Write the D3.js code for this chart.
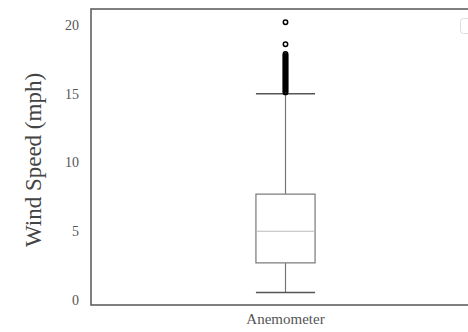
<!DOCTYPE html>
<html>
<head>
<meta charset="utf-8">
<script src="https://cdn.jsdelivr.net/npm/d3@7"></script>
<style>
  body { margin: 0; background: #fff; }
  svg { display: block; font-family: "Liberation Serif", "DejaVu Serif", serif; }
  .tick text { fill: #555; }
</style>
</head>
<body>
<svg width="468" height="332"></svg>
<script>
const categories = ["Anemometer"];
// box stats (mph)
const lowerWhisker = [0.55];
const q1 = [2.7];
const median = [5.0];
const q3 = [7.7];
const upperWhisker = [15.0];
const outliers = [15.1, 15.2, 15.3, 15.4, 15.5, 15.6, 15.7, 15.8, 15.9, 16.0,
  16.1, 16.2, 16.3, 16.4, 16.5, 16.6, 16.7, 16.8, 16.9, 17.0,
  17.1, 17.2, 17.3, 17.4, 17.5, 17.6, 17.7, 17.8, 17.9, 18.6, 20.2];
const yTicks = [0, 5, 10, 15, 20];

const svg = d3.select("svg");
const margin = {left: 91, top: 9, right: -12, bottom: 27};
const width = 468, height = 332;

var x = d3.scaleBand()
    .domain(categories)
    .range([margin.left, width - margin.right]);

var y = d3.scaleLinear()
    .domain([0, 20])
    .range([300, 25]);

const boxW = x.bandwidth() * 0.152;
const capW = x.bandwidth() * 0.076;

// frame
svg.append("rect")
    .attr("x", margin.left)
    .attr("y", margin.top)
    .attr("width", width - margin.right - margin.left)
    .attr("height", 305 - margin.top)
    .attr("fill", "none")
    .attr("stroke", "#555")
    .attr("stroke-width", 1.5);

// legend stub peeking in at the right
svg.append("rect")
    .attr("x", 460.5).attr("y", 18.5)
    .attr("width", 40).attr("height", 15)
    .attr("rx", 3)
    .attr("fill", "#fff")
    .attr("stroke", "#ddd");

var yAxis = d3.axisLeft(y)
    .tickValues(yTicks)
    .tickSize(0)
    .tickPadding(12);

svg.append("g")
    .attr("transform", `translate(${margin.left},0)`)
    .call(yAxis)
    .call(g => g.select(".domain").remove())
    .selectAll("text")
    .attr("font-size", 14)
    .attr("font-family", "Liberation Serif, serif");

var xAxis = d3.axisBottom(x).tickSize(0).tickPadding(8);

svg.append("g")
    .attr("transform", "translate(0,305)")
    .call(xAxis)
    .call(g => g.select(".domain").remove())
    .selectAll("text")
    .attr("font-size", 15)
    .attr("fill", "#222")
    .attr("font-family", "Liberation Serif, serif");

svg.append("text")
    .attr("transform", "translate(41,160) rotate(-90)")
    .attr("text-anchor", "middle")
    .attr("font-size", 23)
    .attr("fill", "#444")
    .text("Wind Speed (mph)");

const g = svg.append("g");
categories.forEach((c, i) => {
    const cx = x(c) + x.bandwidth() / 2;
    // whiskers
    g.append("line")
        .attr("x1", cx).attr("x2", cx)
        .attr("y1", y(q3[i])).attr("y2", y(upperWhisker[i]))
        .attr("stroke", "#777").attr("stroke-width", 1.2);
    g.append("line")
        .attr("x1", cx).attr("x2", cx)
        .attr("y1", y(q1[i])).attr("y2", y(lowerWhisker[i]))
        .attr("stroke", "#777").attr("stroke-width", 1.2);
    // caps
    [upperWhisker[i], lowerWhisker[i]].forEach(v => {
        g.append("line")
            .attr("x1", cx - capW).attr("x2", cx + capW)
            .attr("y1", y(v)).attr("y2", y(v))
            .attr("stroke", "#555").attr("stroke-width", 1.5);
    });
    // box
    g.append("rect")
        .attr("x", cx - boxW / 2)
        .attr("y", y(q3[i]))
        .attr("width", boxW)
        .attr("height", y(q1[i]) - y(q3[i]))
        .attr("fill", "#fff")
        .attr("stroke", "#777").attr("stroke-width", 1.2);
    g.append("line")
        .attr("x1", cx - boxW / 2).attr("x2", cx + boxW / 2)
        .attr("y1", y(median[i])).attr("y2", y(median[i]))
        .attr("stroke", "#bbb").attr("stroke-width", 1.2);
    // outliers
    g.selectAll(null)
        .data(outliers)
        .join("circle")
        .attr("cx", cx)
        .attr("cy", d => y(d))
        .attr("r", 2.2)
        .attr("fill", "none")
        .attr("stroke", "#000")
        .attr("stroke-width", 1.5);
});
</script>
</body>
</html>
